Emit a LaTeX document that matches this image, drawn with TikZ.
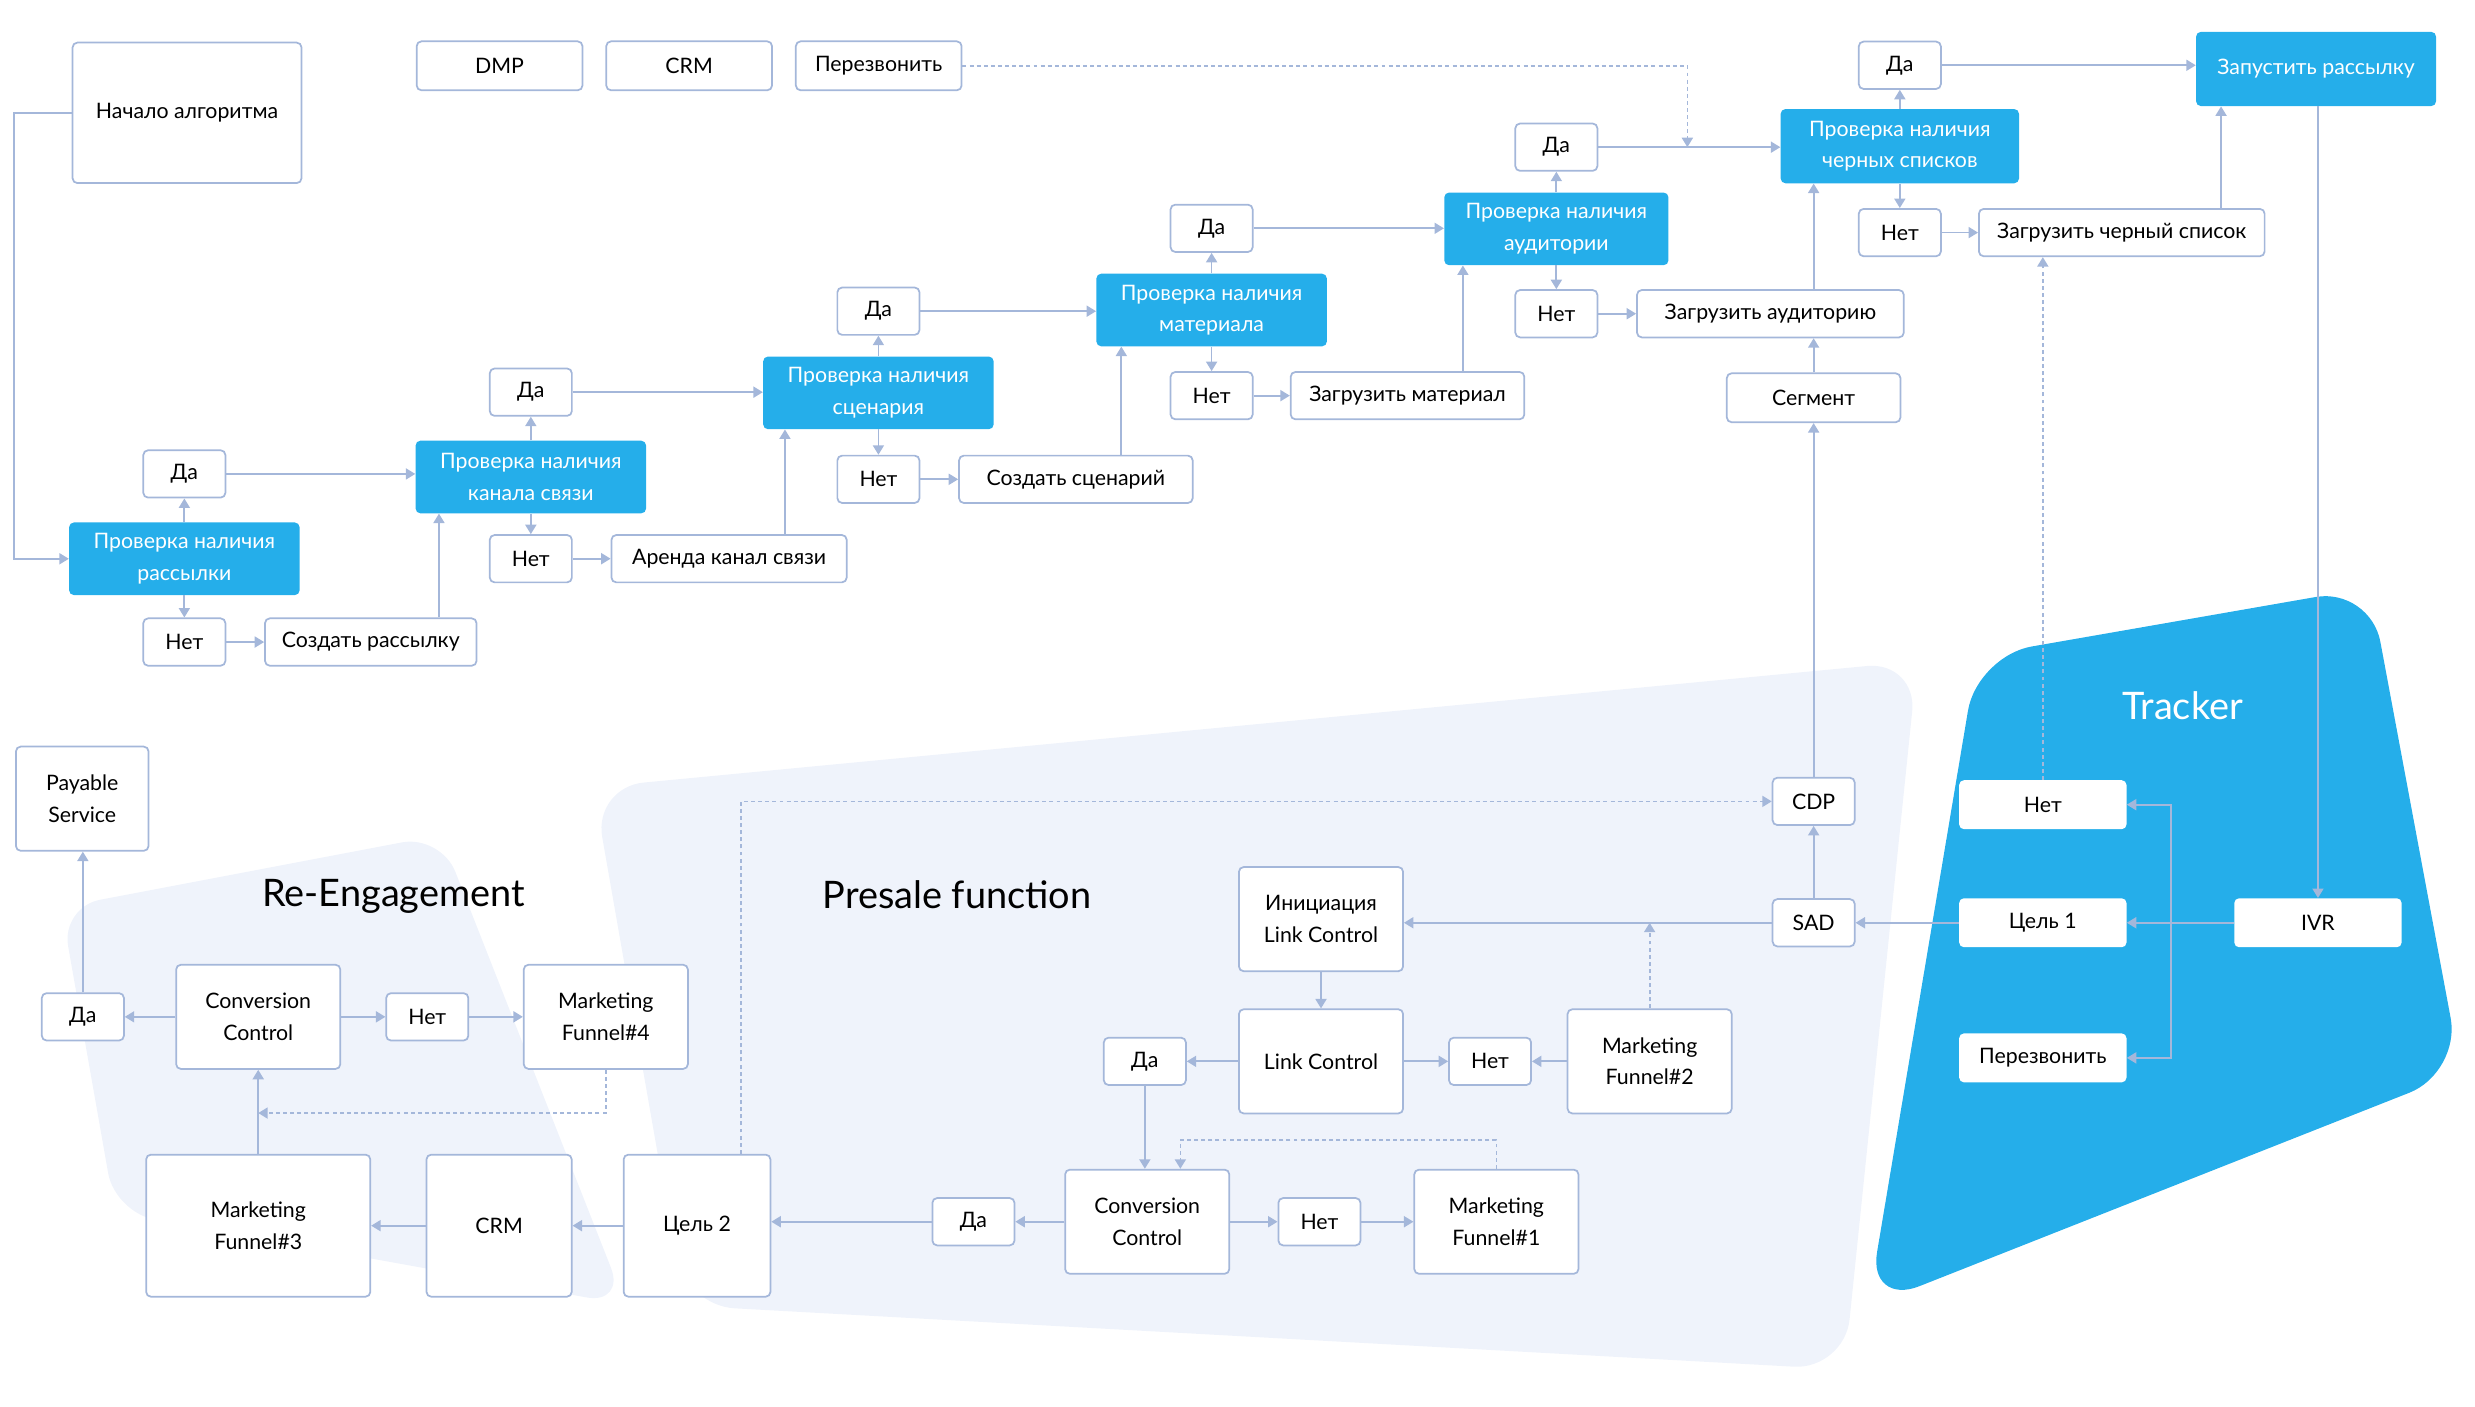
\documentclass[tikz,border=0pt]{standalone}
\usepackage{fontspec}
\setmainfont{Lato}
\usetikzlibrary{arrows.meta, positioning}
\definecolor{mainblue}{RGB}{37,174,234}
\definecolor{lineblue}{RGB}{164,183,218}
\definecolor{regiongray}{RGB}{239,243,251}
\newcommand{\diafont}{\fontsize{13.5}{20}\selectfont}
\newcommand{\titlefont}{\fontsize{24}{28}\selectfont}
\tikzset{
	box/.style={
		rectangle,
		rounded corners=3pt,
		draw=lineblue,
		line width=1.1pt,
		fill=white,
		align=center,
		font=\diafont,
		inner sep=2pt
	},
	answer/.style={box, minimum width=52pt, minimum height=30pt},
	check/.style={
		rectangle,
		rounded corners=3pt,
		fill=mainblue,
		text=white,
		align=center,
		font=\diafont,
		minimum width=146pt,
		minimum height=46pt,
		inner sep=2pt
	},
	trackbox/.style={
		rectangle,
		rounded corners=3pt,
		fill=white,
		font=\diafont,
		minimum width=106pt,
		minimum height=31pt
	},
	region/.style={fill=regiongray},
	title/.style={font=\titlefont},
	arrow/.style={draw=lineblue, line width=1.1pt, -{Triangle[length=6pt,width=7pt]}},
	dotline/.style={dash pattern=on 2.5pt off 2pt}
}

\begin{document}
\begin{tikzpicture}[x=1pt, y=-1pt]
	\useasboundingbox (0,0) rectangle (1568,891);

	% background areas
	\fill [region, rounded corners=25pt] (38.8,574.7) -- (279.3,529) -- (396.2,826.4) -- (72.9,768) -- cycle;
	\fill [region, rounded corners=32pt] (376,498.8) -- (1214.7,418.9) -- (1168.5,867.6) -- (433.5,827.1) -- cycle;
	\fill [mainblue, rounded corners=35pt] (1252.6,415.6) -- (1501.6,372.2) -- (1559,679.4) -- (1183.4,827.7) -- cycle;

	\node (reTitle) [title] at (249.3,567.6) {Re-Engagement};
	\node (preTitle) [title] at (606.3,567) {Presale function};
	\node (trTitle) [title, text=white] at (1382.8,447.2) {Tracker};

	% top row
	\node (start) [box, minimum width=145pt, minimum height=89pt] at (118.5,71.5) {Начало алгоритма};
	\node (dmp) [box, minimum width=105pt, minimum height=31pt] at (316.5,41.7) {DMP};
	\node (crmTop) [box, minimum width=105pt, minimum height=31pt, right=14pt of dmp] {CRM};
	\node (callTop) [box, minimum width=105pt, minimum height=31pt, right=14pt of crmTop] {Перезвонить};

	% checks
	\node (chk1) [check] at (116.8,354) {Проверка наличия\\рассылки};
	\node (yes1) [answer, above=15pt of chk1] {Да};
	\node (no1) [answer, below=14pt of chk1] {Нет};
	\node (make1) [box, minimum width=134pt, minimum height=30pt, right=24pt of no1] {Создать рассылку};

	\node (chk2) [check] at (336.3,302.2) {Проверка наличия\\канала связи};
	\node (yes2) [answer, above=15pt of chk2] {Да};
	\node (no2) [answer, below=13pt of chk2] {Нет};
	\node (make2) [box, minimum width=149pt, minimum height=30pt, right=24pt of no2] {Аренда канал связи};

	\node (chk3) [check] at (556.5,248.9) {Проверка наличия\\сценария};
	\node (yes3) [answer, above=13pt of chk3] {Да};
	\node (no3) [answer, below=16pt of chk3] {Нет};
	\node (make3) [box, minimum width=148pt, minimum height=30pt, right=24pt of no3] {Создать сценарий};

	\node (chk4) [check] at (767.6,196.4) {Проверка наличия\\материала};
	\node (yes4) [answer, above=13pt of chk4] {Да};
	\node (no4) [answer, below=15.5pt of chk4] {Нет};
	\node (make4) [box, minimum width=148pt, minimum height=30pt, right=23pt of no4] {Загрузить материал};

	\node (chk5) [check, minimum width=142pt] at (986,145) {Проверка наличия\\аудитории};
	\node (yes5) [answer, above=13pt of chk5] {Да};
	\node (no5) [answer, below=15pt of chk5] {Нет};
	\node (make5) [box, minimum width=169pt, minimum height=30pt, right=24pt of no5] {Загрузить аудиторию};
	\node (seg) [box, minimum width=110pt, minimum height=31pt] at (1149,252) {Сегмент};

	\node (chk6) [check, minimum width=151pt, minimum height=47pt] at (1203.6,92.6) {Проверка наличия\\черных списков};
	\node (yes6) [answer, above=12pt of chk6] {Да};
	\node (no6) [answer, below=15.5pt of chk6] {Нет};
	\node (make6) [box, minimum width=181pt, minimum height=30pt, right=23pt of no6] {Загрузить черный список};
	\node (launch) [check, minimum width=152pt, minimum height=47pt] at (1467.3,43.7) {Запустить рассылку};

	% tracker
	\node (tno) [trackbox] at (1294.2,509.8) {Нет};
	\node (tgoal) [trackbox] at (1294.2,584.6) {Цель 1};
	\node (tcall) [trackbox] at (1294.2,670.2) {Перезвонить};
	\node (ivr) [trackbox] at (1468.5,584.6) {IVR};

	% presale
	\node (cdp) [answer] at (1149,507.7) {CDP};
	\node (sad) [answer] at (1149,584.6) {SAD};
	\node (lc) [box, minimum width=104pt, minimum height=66pt] at (836.9,672.4) {Link Control};
	\node (init) [box, minimum width=104pt, minimum height=66pt, above=23pt of lc] {Инициация\\Link Control};
	\node (yesm) [answer, left=32.5pt of lc] {Да};
	\node (nom) [answer, right=28pt of lc] {Нет};
	\node (mf2) [box, minimum width=104pt, minimum height=66pt, right=22pt of nom] {Marketing\\Funnel\#2};
	\node (cc1) [box, minimum width=104pt, minimum height=66pt] at (726.8,774) {Conversion\\Control};
	\node (yesb) [answer, left=31pt of cc1] {Да};
	\node (nob) [answer, right=30pt of cc1] {Нет};
	\node (mf1) [box, minimum width=104pt, minimum height=66pt, right=33pt of nob] {Marketing\\Funnel\#1};
	\node (goal2) [box, minimum width=93pt, minimum height=90pt] at (441.6,776.5) {Цель 2};
	\node (crmb) [box, minimum width=92pt, minimum height=90pt] at (316.2,776.5) {CRM};

	% re-engagement
	\node (mf3) [box, minimum width=142pt, minimum height=90pt] at (163.6,776.5) {Marketing\\Funnel\#3};
	\node (cc2) [box, minimum width=104pt, minimum height=66pt] at (163.6,644.2) {Conversion\\Control};
	\node (yesre) [answer, left=32pt of cc2] {Да};
	\node (nore) [answer, right=28pt of cc2] {Нет};
	\node (mf4) [box, minimum width=104pt, minimum height=66pt, right=34pt of nore] {Marketing\\Funnel\#4};
	\node (pay) [box, minimum width=84pt, minimum height=66pt] at (52.1,506) {Payable\\Service};

	\coordinate (in2) at ([xshift=15pt]chk2.south west);
	\coordinate (in3) at ([xshift=14pt]chk3.south west);
	\coordinate (in4) at ([xshift=16pt]chk4.south west);
	\coordinate (in5) at ([xshift=12pt]chk5.south west);
	\coordinate (in7) at ([xshift=16pt]launch.south west);
	\coordinate (merge) at (yes5.east -| 1069,0);
	\coordinate (split) at (1375.2,584.6);

	% chain of checks
	\draw [arrow] (start.west) -- ++(-36.5,0) |- (chk1.west);
	\draw [arrow] (chk1) -- (yes1);
	\draw [arrow] (chk1) -- (no1);
	\draw [arrow] (no1) -- (make1);
	\draw [arrow] (yes1) -- (yes1 -| chk2.west);
	\draw [arrow] (in2 |- make1.north) -- (in2);
	\draw [arrow] (chk2) -- (yes2);
	\draw [arrow] (chk2) -- (no2);
	\draw [arrow] (no2) -- (make2);
	\draw [arrow] (yes2) -- (yes2 -| chk3.west);
	\draw [arrow] (in3 |- make2.north) -- (in3);
	\draw [arrow] (chk3) -- (yes3);
	\draw [arrow] (chk3) -- (no3);
	\draw [arrow] (no3) -- (make3);
	\draw [arrow] (yes3) -- (yes3 -| chk4.west);
	\draw [arrow] (in4 |- make3.north) -- (in4);
	\draw [arrow] (chk4) -- (yes4);
	\draw [arrow] (chk4) -- (no4);
	\draw [arrow] (no4) -- (make4);
	\draw [arrow] (yes4) -- (yes4 -| chk5.west);
	\draw [arrow] (in5 |- make4.north) -- (in5);
	\draw [arrow] (chk5) -- (yes5);
	\draw [arrow] (chk5) -- (no5);
	\draw [arrow] (no5) -- (make5);
	\draw [arrow] (yes5) -- (yes5 -| chk6.west);
	\draw [arrow] (seg.north |- make5.north) -- (seg.north |- chk6.south);
	\draw [arrow] (seg) -- (seg |- make5.south);
	\draw [arrow] (chk6) -- (yes6);
	\draw [arrow] (chk6) -- (no6);
	\draw [arrow] (no6) -- (make6);
	\draw [arrow] (yes6) -- (yes6 -| launch.west);
	\draw [arrow] (in7 |- make6.north) -- (in7);
	\draw [arrow, dotline] (callTop) -| (merge);

	% tracker links
	\draw [arrow] (ivr.north |- launch.south) -- (ivr);
	\draw [arrow] (ivr) -- (tgoal);
	\draw [arrow] (split) |- (tno.east);
	\draw [arrow] (split) |- (tcall.east);
	\draw [arrow, dotline] (tno) -- (tno |- make6.south);
	\draw [arrow] (tgoal) -- (sad);

	% presale links
	\draw [arrow] (sad) -- (cdp);
	\draw [arrow] (cdp) -- (seg);
	\draw [arrow] (sad) -- (sad -| init.east);
	\draw [arrow, dotline] (mf2) -- (mf2 |- sad);
	\draw [arrow] (init) -- (lc);
	\draw [arrow] (lc) -- (yesm);
	\draw [arrow] (lc) -- (nom);
	\draw [arrow] (mf2) -- (nom);
	\draw [arrow] (yesm) -- (yesm |- cc1.north);
	\draw [arrow, dotline] (mf1.north) -- ++(0,-18) -| ([xshift=21pt]cc1.north);
	\draw [arrow] (cc1) -- (yesb);
	\draw [arrow] (cc1) -- (nob);
	\draw [arrow] (nob) -- (mf1);
	\draw [arrow] (yesb) -- (yesb -| goal2.east);
	\draw [arrow, dotline] ([xshift=28pt]goal2.north) |- (cdp.west);
	\draw [arrow] (goal2) -- (crmb);
	\draw [arrow] (crmb) -- (mf3);

	% re-engagement links
	\draw [arrow] (mf3) -- (cc2);
	\draw [arrow] (cc2) -- (yesre);
	\draw [arrow] (yesre) -- (yesre |- pay.south);
	\draw [arrow] (cc2) -- (nore);
	\draw [arrow] (nore) -- (mf4);
	\draw [arrow, dotline] (mf4.south) |- ([yshift=-27.4pt]cc2.south);
\end{tikzpicture}
\end{document}
